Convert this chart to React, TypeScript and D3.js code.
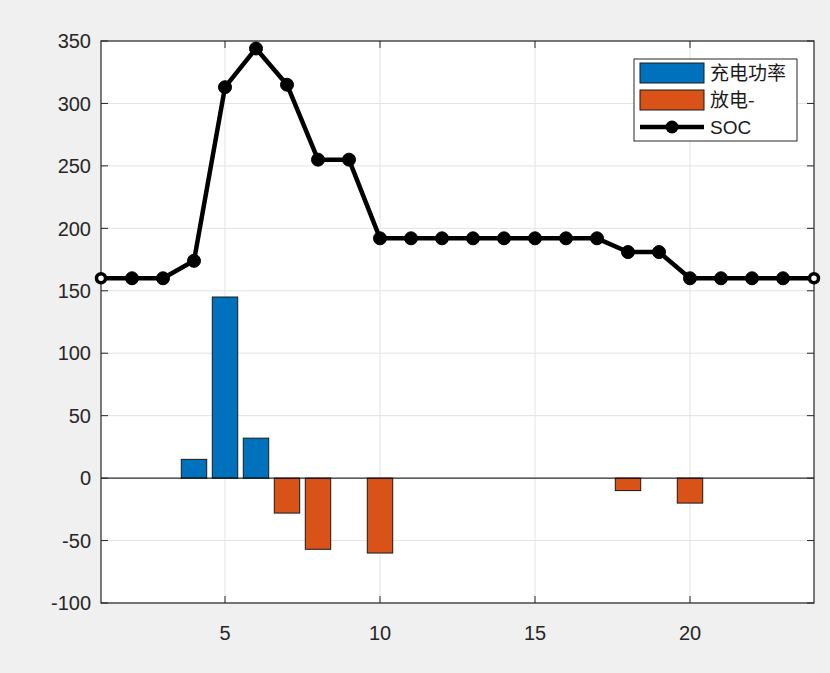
import { useEffect, useRef } from "react";
import * as d3 from "d3";

const hours = d3.range(1, 25);
const charge = [0, 0, 0, 15, 145, 32, 0, 0, 0, 0, 0, 0, 0, 0, 0, 0, 0, 0, 0, 0, 0, 0, 0, 0];
const discharge = [0, 0, 0, 0, 0, 0, -28, -57, 0, -60, 0, 0, 0, 0, 0, 0, 0, -10, 0, -20, 0, 0, 0, 0];
const soc = [160, 160, 160, 174, 313, 344, 315, 255, 255, 192, 192, 192, 192, 192, 192, 192, 192, 181, 181, 160, 160, 160, 160, 160];
const yTicks = [-100, -50, 0, 50, 100, 150, 200, 250, 300, 350];
const xTicks = [5, 10, 15, 20];
const legendLabels = ["充电功率", "放电-", "SOC"];

const W = 830;
const H = 673;
const m = { left: 101, right: 16, top: 41, bottom: 70 };
const font = "'Liberation Sans', Arial, sans-serif";

const App = () => {
  const ref = useRef<SVGSVGElement>(null);

  useEffect(() => {
    const svg = d3.select(ref.current).attr("width", W).attr("height", H);
    svg.selectAll("*").remove();

    const x = d3.scaleLinear().domain([1, 24]).range([m.left, W - m.right]);
    const y = d3.scaleLinear().domain([-100, 350]).range([H - m.bottom, m.top]);
    const bw = x(1.82) - x(1);

    svg.append("rect").attr("width", W).attr("height", H).attr("fill", "#f0f0f0");
    svg
      .append("rect")
      .attr("x", x(1))
      .attr("y", y(350))
      .attr("width", x(24) - x(1))
      .attr("height", y(-100) - y(350))
      .attr("fill", "#ffffff");

    // grid
    const g = svg.append("g");
    g.selectAll("line.hy")
      .data(yTicks)
      .join("line")
      .attr("x1", x(1))
      .attr("x2", x(24))
      .attr("y1", (d) => y(d))
      .attr("y2", (d) => y(d))
      .attr("stroke", "#e3e3e3")
      .attr("stroke-width", 1);
    g.selectAll("line.vx")
      .data(xTicks)
      .join("line")
      .attr("x1", (d) => x(d))
      .attr("x2", (d) => x(d))
      .attr("y1", y(350))
      .attr("y2", y(-100))
      .attr("stroke", "#e3e3e3")
      .attr("stroke-width", 1);

    // bars
    const bars = svg.append("g");
    bars
      .selectAll("rect.c")
      .data(hours.filter((_, i) => charge[i] !== 0))
      .join("rect")
      .attr("x", (d) => x(d) - bw / 2)
      .attr("y", (d) => y(charge[d - 1]))
      .attr("width", bw)
      .attr("height", (d) => y(0) - y(charge[d - 1]))
      .attr("fill", "#0072BD")
      .attr("stroke", "#1a1a1a")
      .attr("stroke-width", 1);
    bars
      .selectAll("rect.d")
      .data(hours.filter((_, i) => discharge[i] !== 0))
      .join("rect")
      .attr("x", (d) => x(d) - bw / 2)
      .attr("y", y(0))
      .attr("width", bw)
      .attr("height", (d) => y(discharge[d - 1]) - y(0))
      .attr("fill", "#D95319")
      .attr("stroke", "#1a1a1a")
      .attr("stroke-width", 1);

    // baseline
    svg
      .append("line")
      .attr("x1", x(1))
      .attr("x2", x(24))
      .attr("y1", y(0))
      .attr("y2", y(0))
      .attr("stroke", "#000")
      .attr("stroke-width", 1);

    // axes box + ticks
    const axisColor = "#262626";
    svg
      .append("rect")
      .attr("x", x(1))
      .attr("y", y(350))
      .attr("width", x(24) - x(1))
      .attr("height", y(-100) - y(350))
      .attr("fill", "none")
      .attr("stroke", axisColor)
      .attr("stroke-width", 1.2);

    const tl = 7;
    const ticks = svg.append("g").attr("stroke", axisColor).attr("stroke-width", 1);
    yTicks.forEach((t) => {
      ticks.append("line").attr("x1", x(1)).attr("x2", x(1) + tl).attr("y1", y(t)).attr("y2", y(t));
      ticks.append("line").attr("x1", x(24)).attr("x2", x(24) - tl).attr("y1", y(t)).attr("y2", y(t));
    });
    xTicks.forEach((t) => {
      ticks.append("line").attr("x1", x(t)).attr("x2", x(t)).attr("y1", y(-100)).attr("y2", y(-100) - tl);
      ticks.append("line").attr("x1", x(t)).attr("x2", x(t)).attr("y1", y(350)).attr("y2", y(350) + tl);
    });

    svg
      .append("g")
      .selectAll("text")
      .data(yTicks)
      .join("text")
      .attr("x", x(1) - 10)
      .attr("y", (d) => y(d))
      .attr("dy", "0.36em")
      .attr("text-anchor", "end")
      .attr("font-family", font)
      .attr("font-size", 20)
      .attr("fill", axisColor)
      .text((d) => d);
    svg
      .append("g")
      .selectAll("text")
      .data(xTicks)
      .join("text")
      .attr("x", (d) => x(d))
      .attr("y", y(-100) + 30)
      .attr("dy", "0.36em")
      .attr("text-anchor", "middle")
      .attr("font-family", font)
      .attr("font-size", 20)
      .attr("fill", axisColor)
      .text((d) => d);

    // SOC line
    const line = d3
      .line<number>()
      .x((d) => x(d))
      .y((d) => y(soc[d - 1]));
    svg
      .append("path")
      .datum(hours)
      .attr("d", line)
      .attr("fill", "none")
      .attr("stroke", "#000")
      .attr("stroke-width", 4.5)
      .attr("stroke-linejoin", "round");
    svg
      .append("g")
      .selectAll("circle")
      .data(hours)
      .join("circle")
      .attr("cx", (d) => x(d))
      .attr("cy", (d) => y(soc[d - 1]))
      .attr("r", (d) => (d === 1 || d === 24 ? 4.5 : 6.5))
      .attr("fill", (d) => (d === 1 || d === 24 ? "#fff" : "#000"))
      .attr("stroke", "#000")
      .attr("stroke-width", (d) => (d === 1 || d === 24 ? 3.5 : 1));

    // legend
    const lg = svg.append("g").attr("transform", "translate(634,59)");
    lg.append("rect")
      .attr("width", 163)
      .attr("height", 82)
      .attr("fill", "#fff")
      .attr("stroke", axisColor)
      .attr("stroke-width", 1);
    const rowY = [14, 41, 68];
    const colors = ["#0072BD", "#D95319"];
    colors.forEach((c, i) => {
      lg.append("rect")
        .attr("x", 6)
        .attr("y", rowY[i] - 10)
        .attr("width", 64)
        .attr("height", 20)
        .attr("fill", c)
        .attr("stroke", "#1a1a1a")
        .attr("stroke-width", 1);
    });
    lg.append("line")
      .attr("x1", 6)
      .attr("x2", 70)
      .attr("y1", rowY[2])
      .attr("y2", rowY[2])
      .attr("stroke", "#000")
      .attr("stroke-width", 4.5);
    lg.append("circle").attr("cx", 38).attr("cy", rowY[2]).attr("r", 6.5).attr("fill", "#000");
    legendLabels.forEach((t, i) => {
      lg.append("text")
        .attr("x", 76)
        .attr("y", rowY[i])
        .attr("dy", "0.36em")
        .attr("font-family", i === 2 ? font : "'Noto Sans CJK SC', sans-serif")
        .attr("font-size", 19)
        .attr("fill", "#1a1a1a")
        .text(t);
    });
  }, []);

  return (
    <div style={{ position: "absolute", left: 0, top: 0 }}>
      <svg ref={ref}></svg>
    </div>
  );
};

export default App;
